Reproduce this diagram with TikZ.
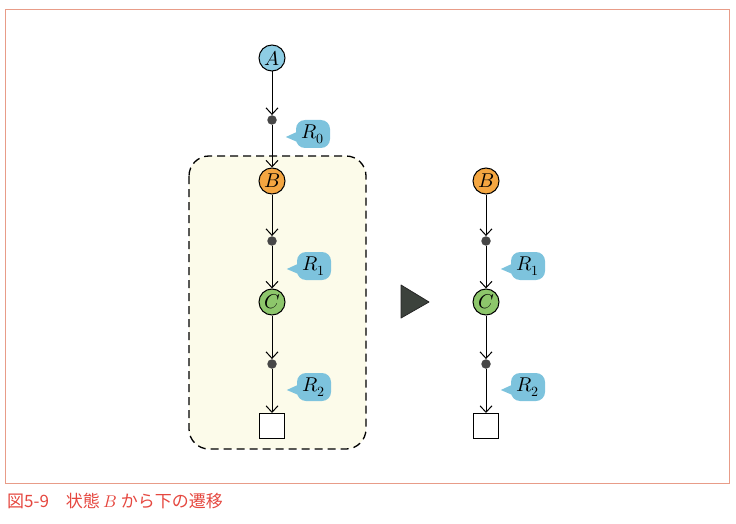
\documentclass[tikz,border=0pt]{standalone}
\usepackage{fontspec}
\usepackage{unicode-math}
\setmathfont{Latin Modern Math}
\newfontfamily\jpfont{Noto Sans CJK JP}
\usetikzlibrary{arrows.meta}

\definecolor{stateblue}{HTML}{8ECDE4}
\definecolor{stateorange}{HTML}{F4A641}
\definecolor{stategreen}{HTML}{8DC66B}
\definecolor{bubbleblue}{HTML}{7DC3DD}
\definecolor{boxyellow}{HTML}{FCFBEA}
\definecolor{dotgray}{HTML}{474747}
\definecolor{framecol}{HTML}{E89C88}
\definecolor{captioncol}{HTML}{E5473F}
\definecolor{arrowgray}{HTML}{3C423C}

\tikzset{
  state/.style={circle, draw, line width=1pt, minimum size=26pt, inner sep=0pt,
    font=\fontsize{20}{24}\selectfont},
  mid/.style={circle, fill=dotgray, minimum size=9.5pt, inner sep=0pt},
  final/.style={draw, fill=white, line width=1pt, minimum size=25pt, inner sep=0pt},
  bubble/.style={fill=bubbleblue, rounded corners=9pt, minimum width=34pt,
    minimum height=28pt, inner sep=1pt, font=\fontsize{20}{24}\selectfont},
  trans/.style={->, line width=1pt},
  >={Straight Barb[length=6.5pt,width=12pt]}
}

\begin{document}
\begin{tikzpicture}[x=1pt,y=-1pt]
\useasboundingbox (0,0) rectangle (736,524);
\draw[framecol, line width=1pt] (5,10) rectangle (729,483);
\node[anchor=base west, inner sep=0pt, text=captioncol, font=\jpfont\fontsize{17}{20}\selectfont]
  (cap) at (7,507) {図5-9　状態 $B$ から下の遷移};

% part below B
\draw[line width=1.3pt, dash pattern=on 8pt off 5pt, fill=boxyellow, rounded corners=20pt]
  (189,156) rectangle (366,449);

% left
\node[state, fill=stateblue] (sA) at (272,58) {$A$};
\node[mid] (m0) at (272,120) {};
\node[state, fill=stateorange] (sB) at (272,181) {$B$};
\node[mid] (m1) at (272,241) {};
\node[state, fill=stategreen] (sC) at (272,302) {$C$};
\node[mid] (m2) at (272,364) {};
\node[final] (fin) at (272,426) {};

\draw[trans] (sA) -- (m0);
\draw[trans] (m0) -- (sB);
\draw[trans] (sB) -- (m1);
\draw[trans] (m1) -- (sC);
\draw[trans] (sC) -- (m2);
\draw[trans] (m2) -- (fin);

\node[bubble] (rA0) at (313,134) {$R_0$};
\node[bubble] (rA1) at (314,266) {$R_1$};
\node[bubble] (rA2) at (314,387) {$R_2$};

% right
\node[state, fill=stateorange] (tB) at (486,181) {$B$};
\node[mid] (n1) at (486,241) {};
\node[state, fill=stategreen] (tC) at (486,302) {$C$};
\node[mid] (n2) at (486,364) {};
\node[final] (tfin) at (486,426) {};

\draw[trans] (tB) -- (n1);
\draw[trans] (n1) -- (tC);
\draw[trans] (tC) -- (n2);
\draw[trans] (n2) -- (tfin);

\node[bubble] (rB1) at (528,266) {$R_1$};
\node[bubble] (rB2) at (528,387) {$R_2$};

% bubble pointers
\foreach \r in {rA0,rA1,rA2,rB1,rB2}
  \fill[bubbleblue] ([xshift=3pt,yshift=3pt]\r.west) -- ++(-13pt,-6pt)
    -- ([xshift=4pt,yshift=-9pt]\r.west) -- cycle;

% arrow between the two
\filldraw[fill=arrowgray, draw=black!85, line width=0.8pt, line join=round]
  (401,285) -- (429,302) -- (401,318) -- cycle;
\end{tikzpicture}
\end{document}
